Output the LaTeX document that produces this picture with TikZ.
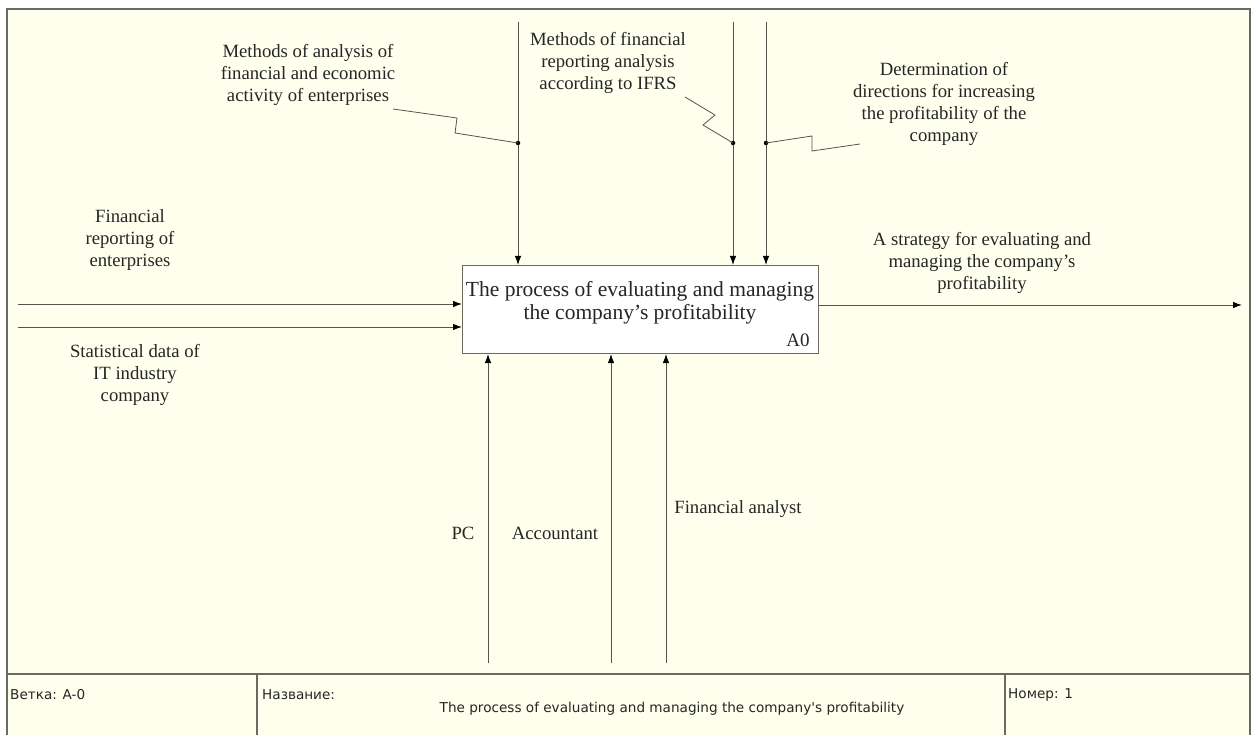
\documentclass[tikz,border=0pt]{standalone}
\usepackage{fontspec}
\setmainfont{Liberation Serif}
\newfontfamily\footfont{DejaVu Sans}
\usetikzlibrary{arrows.meta}
\definecolor{sheet}{HTML}{FFFFEE}
\definecolor{frameline}{HTML}{6A6A62}
\definecolor{wire}{HTML}{55554F}
\definecolor{ink}{HTML}{262626}
\tikzset{
  lbl/.style={font=\fontsize{18.7}{22}\selectfont, align=center, text=ink, inner sep=0pt},
  boxtext/.style={font=\fontsize{21.5}{23}\selectfont, align=center, text=ink, inner sep=0pt},
  foot/.style={font=\footfont\fontsize{13.6}{15}\selectfont, text=ink, inner sep=0pt},
  arr/.style={draw=wire, line width=0.9pt, -{Latex[length=9pt,width=6.5pt,color=black]}},
  squig/.style={draw=wire, line width=0.8pt},
  junction/.style={circle, fill=black, inner sep=0pt, minimum size=4.5pt}
}
\begin{document}
\begin{tikzpicture}[x=1pt,y=-1pt]
\useasboundingbox (0,0) rectangle (1252,735);
\fill[white] (0,0) rectangle (1252,735);

% sheet with frame and footer
\fill[sheet] (7,9) rectangle (1250,735);
\draw[frameline, line width=1.8pt] (7,740) -- (7,9) -- (1250,9) -- (1250,740);
\draw[frameline, line width=1.2pt] (7,674) -- (1250,674);
\draw[frameline, line width=1.2pt] (257,674) -- (257,740);
\draw[frameline, line width=1.2pt] (1005,674) -- (1005,740);

\node[foot, anchor=west] (branch) at (10,695) {Ветка: A-0};
\node[foot, anchor=west] (titlecap) at (262,695) {Название:};
\node[foot] (title) at (672,709) {The process of evaluating and managing the company's profitability};
\node[foot, anchor=west] (number) at (1008,695) {Номер: 1};

% activity box
\node[draw=frameline, line width=1pt, fill=white, minimum width=356pt, minimum height=88pt,
      anchor=north west, inner sep=0pt] (A0) at (462,265) {};
\node[boxtext] (A0text) at (640,303) {The process of evaluating and managing\\the company's profitability};
\node[font=\fontsize{19}{22}\selectfont, text=ink, inner sep=0pt] (A0num) at (798,340) {A0};

% controls from the top
\coordinate (t1) at (518,22);
\coordinate (t2) at (733,22);
\coordinate (t3) at (766,22);
\draw[arr] (t1) -- (t1 |- A0.north);
\draw[arr] (t2) -- (t2 |- A0.north);
\draw[arr] (t3) -- (t3 |- A0.north);

\node[junction] (j1) at (518,143) {};
\node[junction] (j2) at (733,143) {};
\node[junction] (j3) at (766,143) {};

\node[lbl] (c1) at (308,75) {Methods of analysis of\\financial and economic\\activity of enterprises};
\node[lbl] (c2) at (608,63) {Methods of financial\\reporting analysis\\according to IFRS};
\node[lbl] (c3) at (944,104) {Determination of\\directions for increasing\\the profitability of the\\company};

\draw[squig] (393,109) -- (457,118) -- (455,133) -- (j1.center);
\draw[squig] (685,97) -- (715,115) -- (703,125) -- (j2.center);
\draw[squig] (j3.center) -- (812,136) -- (812,151) -- (860,144);

% inputs from the left
\coordinate (i1) at (18,304);
\coordinate (i2) at (18,327);
\draw[arr] (i1) -- (i1 -| A0.west);
\draw[arr] (i2) -- (i2 -| A0.west);
\node[lbl] (in1) at (130,240) {Financial\\reporting of\\enterprises};
\node[lbl] (in2) at (135,375) {Statistical data of\\IT industry\\company};

% output to the right
\coordinate (o1) at (1242,305);
\draw[arr] (o1 -| A0.east) -- (o1);
\node[lbl] (out1) at (982,263) {A strategy for evaluating and\\managing the company's\\profitability};

% mechanisms from below
\coordinate (m1) at (488,663);
\coordinate (m2) at (611,663);
\coordinate (m3) at (666,663);
\draw[arr] (m1) -- (m1 |- A0.south);
\draw[arr] (m2) -- (m2 |- A0.south);
\draw[arr] (m3) -- (m3 |- A0.south);
\node[lbl] (mpc) at (463,533) {PC};
\node[lbl] (macc) at (555,533) {Accountant};
\node[lbl] (mfa) at (738,509) {Financial analyst};
\end{tikzpicture}
\end{document}
